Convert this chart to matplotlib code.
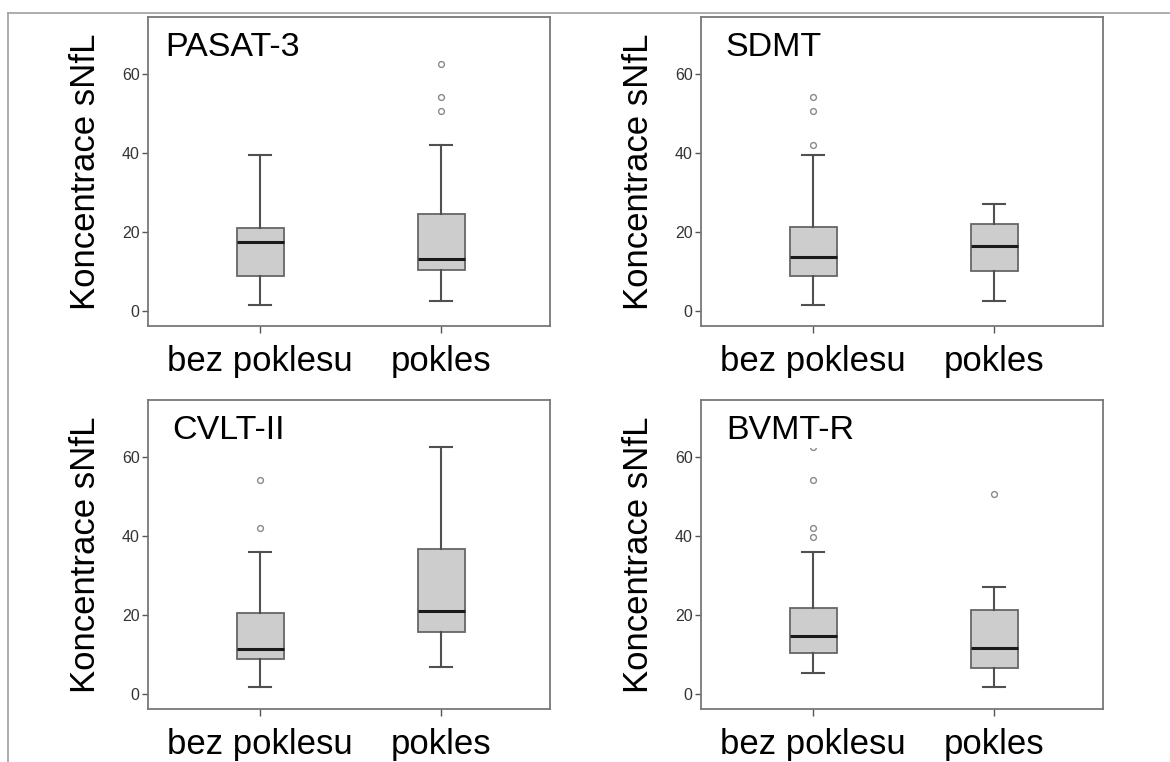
import matplotlib.pyplot as plt
from matplotlib.lines import Line2D

plt.rcParams['font.family'] = ['Liberation Sans', 'DejaVu Sans']

groups = ['bez poklesu', 'pokles']
tests = ['PASAT-3', 'SDMT', 'CVLT-II', 'BVMT-R']

# per test, per group: whisker low, Q1, median, Q3, whisker high
whislo = [[1.6, 2.5], [1.6, 2.5], [1.7, 6.8], [5.3, 1.7]]
q1 = [[8.8, 10.3], [8.9, 10.1], [8.9, 15.8], [10.3, 6.7]]
med = [[17.5, 13.2], [13.7, 16.5], [11.3, 21.0], [14.8, 11.6]]
q3 = [[21.1, 24.6], [21.2, 22.0], [20.6, 36.7], [21.7, 21.3]]
whishi = [[39.6, 42.1], [39.6, 27.2], [35.9, 62.6], [35.9, 27.1]]
outliers = [
    [[], [50.5, 54.1, 62.6]],
    [[42.1, 50.5, 54.1], []],
    [[42.1, 54.1], []],
    [[39.7, 42.1, 54.1, 62.5], [50.5]],
]

fig = plt.figure(figsize=(11.7, 7.62), dpi=100)

lefts = [148, 701, 148, 701]
tops = [17, 17, 400, 400]
title_x = [0.042, 0.062, 0.06, 0.062]

for i, name in enumerate(tests):
    l = lefts[i] / 1170
    b = 1 - (tops[i] + 309) / 762
    ax = fig.add_axes([l, b, 402 / 1170, 309 / 762])
    stats = []
    for j, g in enumerate(groups):
        stats.append(dict(whislo=whislo[i][j], q1=q1[i][j], med=med[i][j],
                          q3=q3[i][j], whishi=whishi[i][j],
                          fliers=outliers[i][j], label=g))
    ax.bxp(stats, positions=[1, 2], widths=0.26, capwidths=0.12,
           patch_artist=True,
           boxprops=dict(facecolor='#cdcdcd', edgecolor='#666666', linewidth=1.3),
           whiskerprops=dict(color='#505050', linewidth=1.5),
           capprops=dict(color='#505050', linewidth=1.5),
           medianprops=dict(color='#1a1a1a', linewidth=2.2),
           flierprops=dict(marker='o', markerfacecolor='none',
                           markeredgecolor='#8a8a8a', markersize=4.2,
                           markeredgewidth=1.0))
    ax.set_xlim(0.381, 2.60)
    ax.set_ylim(-3.8, 74.4)
    ax.set_yticks([0, 20, 40, 60])
    ax.set_xticks([1, 2])
    ax.set_xticklabels(groups, fontsize=25)
    ax.tick_params(axis='y', labelsize=11.5, labelcolor='#333333',
                   color='#555555', length=4, width=1, pad=2)
    ax.tick_params(axis='x', color='#555555', length=5, width=1, pad=9)
    for sp in ax.spines.values():
        sp.set_color('#777777')
        sp.set_linewidth(1.3)
    ax.set_ylabel('Koncentrace sNfL', fontsize=25, labelpad=14)
    ax.text(title_x[i], 0.873, name, transform=ax.transAxes, fontsize=24.5,
            ha='left', va='baseline', zorder=5,
            bbox=dict(facecolor='white', edgecolor='none', pad=1))

# thin border lines of the original figure frame
fig.add_artist(Line2D([8 / 1170, 1], [1 - 13 / 762, 1 - 13 / 762],
                      color='#a0a0a0', linewidth=1.2))
fig.add_artist(Line2D([8 / 1170, 8 / 1170], [0, 1 - 13 / 762],
                      color='#a0a0a0', linewidth=1.2))

fig.savefig('out.png', dpi=100, facecolor='white')
